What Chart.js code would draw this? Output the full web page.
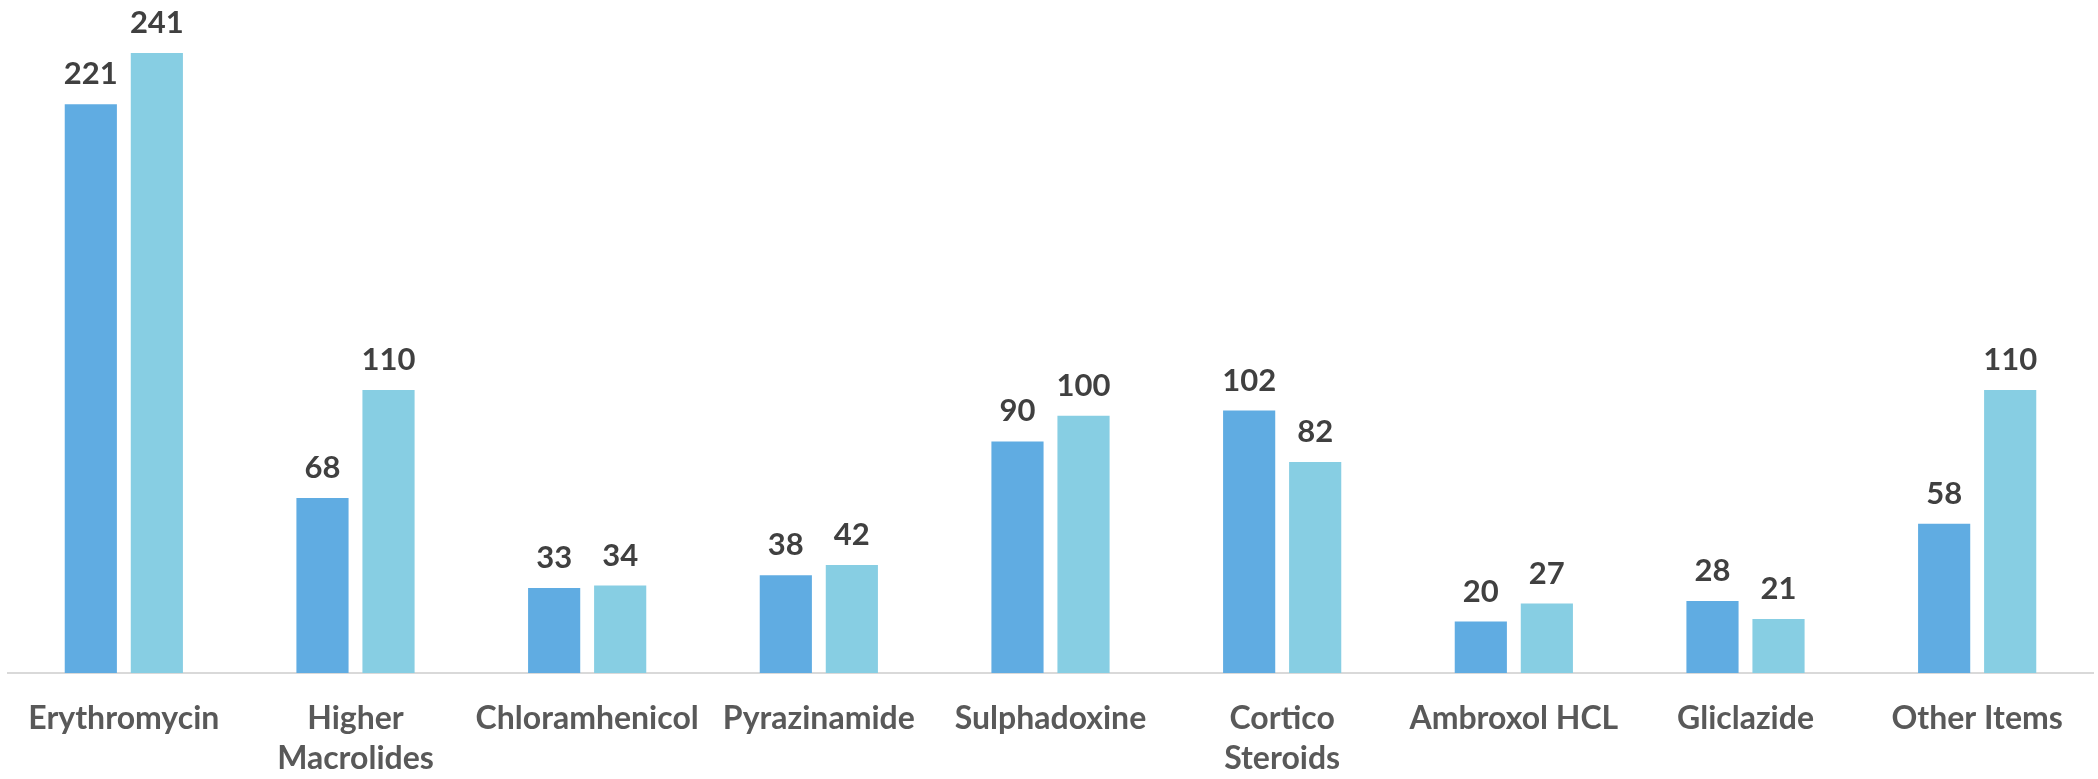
<!DOCTYPE html>
<html>
<head>
<meta charset="utf-8">
<script src="https://cdn.jsdelivr.net/npm/chart.js@4"></script>
<style>
  html, body { margin: 0; padding: 0; background: #ffffff; }
  #wrap { position: relative; width: 2098px; height: 779px; }
</style>
</head>
<body>
<div id="wrap"><canvas id="chart"></canvas></div>
<script>
// Drug categories (multi-line labels are split into arrays)
const categories = [
  'Erythromycin',
  ['Higher', 'Macrolides'],
  'Chloramhenicol',
  'Pyrazinamide',
  'Sulphadoxine',
  ['Cortico', 'Steroids'],
  'Ambroxol HCL',
  'Gliclazide',
  'Other Items'
];

// Two series of counts per category
const seriesA = [221, 68, 33, 38, 90, 102, 20, 28, 58];
const seriesB = [241, 110, 34, 42, 100, 82, 27, 21, 110];

// Draws the value above each bar
const valueLabels = {
  id: 'valueLabels',
  afterDatasetsDraw(chart) {
    const ctx = chart.ctx;
    ctx.save();
    ctx.font = 'bold 31px Lato';
    ctx.fillStyle = '#404040';
    ctx.textAlign = 'center';
    ctx.textBaseline = 'alphabetic';
    chart.data.datasets.forEach((ds, i) => {
      chart.getDatasetMeta(i).data.forEach((bar, j) => {
        ctx.fillText(String(ds.data[j]), bar.x, bar.y - 20);
      });
    });
    ctx.restore();
  }
};

new Chart(document.getElementById('chart'), {
  type: 'bar',
  data: {
    labels: categories,
    datasets: [
      { data: seriesA, backgroundColor: '#60ace2', categoryPercentage: 0.57, barPercentage: 0.79 },
      { data: seriesB, backgroundColor: '#87cee3', categoryPercentage: 0.57, barPercentage: 0.79 }
    ]
  },
  options: {
    responsive: true,
    maintainAspectRatio: false,
    animation: false,
    layout: { padding: { top: 4, left: 8, right: 5, bottom: 0 } },
    plugins: {
      legend: { display: false },
      tooltip: { enabled: false }
    },
    scales: {
      x: {
        grid: { display: false, drawTicks: false },
        border: { display: true, color: '#d9d9d9', width: 2 },
        ticks: {
          color: '#595959',
          font: { family: 'Lato', size: 32, weight: 'bold', lineHeight: 1.25 },
          padding: 26,
          maxRotation: 0,
          autoSkip: false
        },
        afterFit(scale) { scale.height = 106; }
      },
      y: {
        display: false,
        min: 0,
        max: 260
      }
    }
  },
  plugins: [valueLabels]
});
</script>
</body>
</html>
